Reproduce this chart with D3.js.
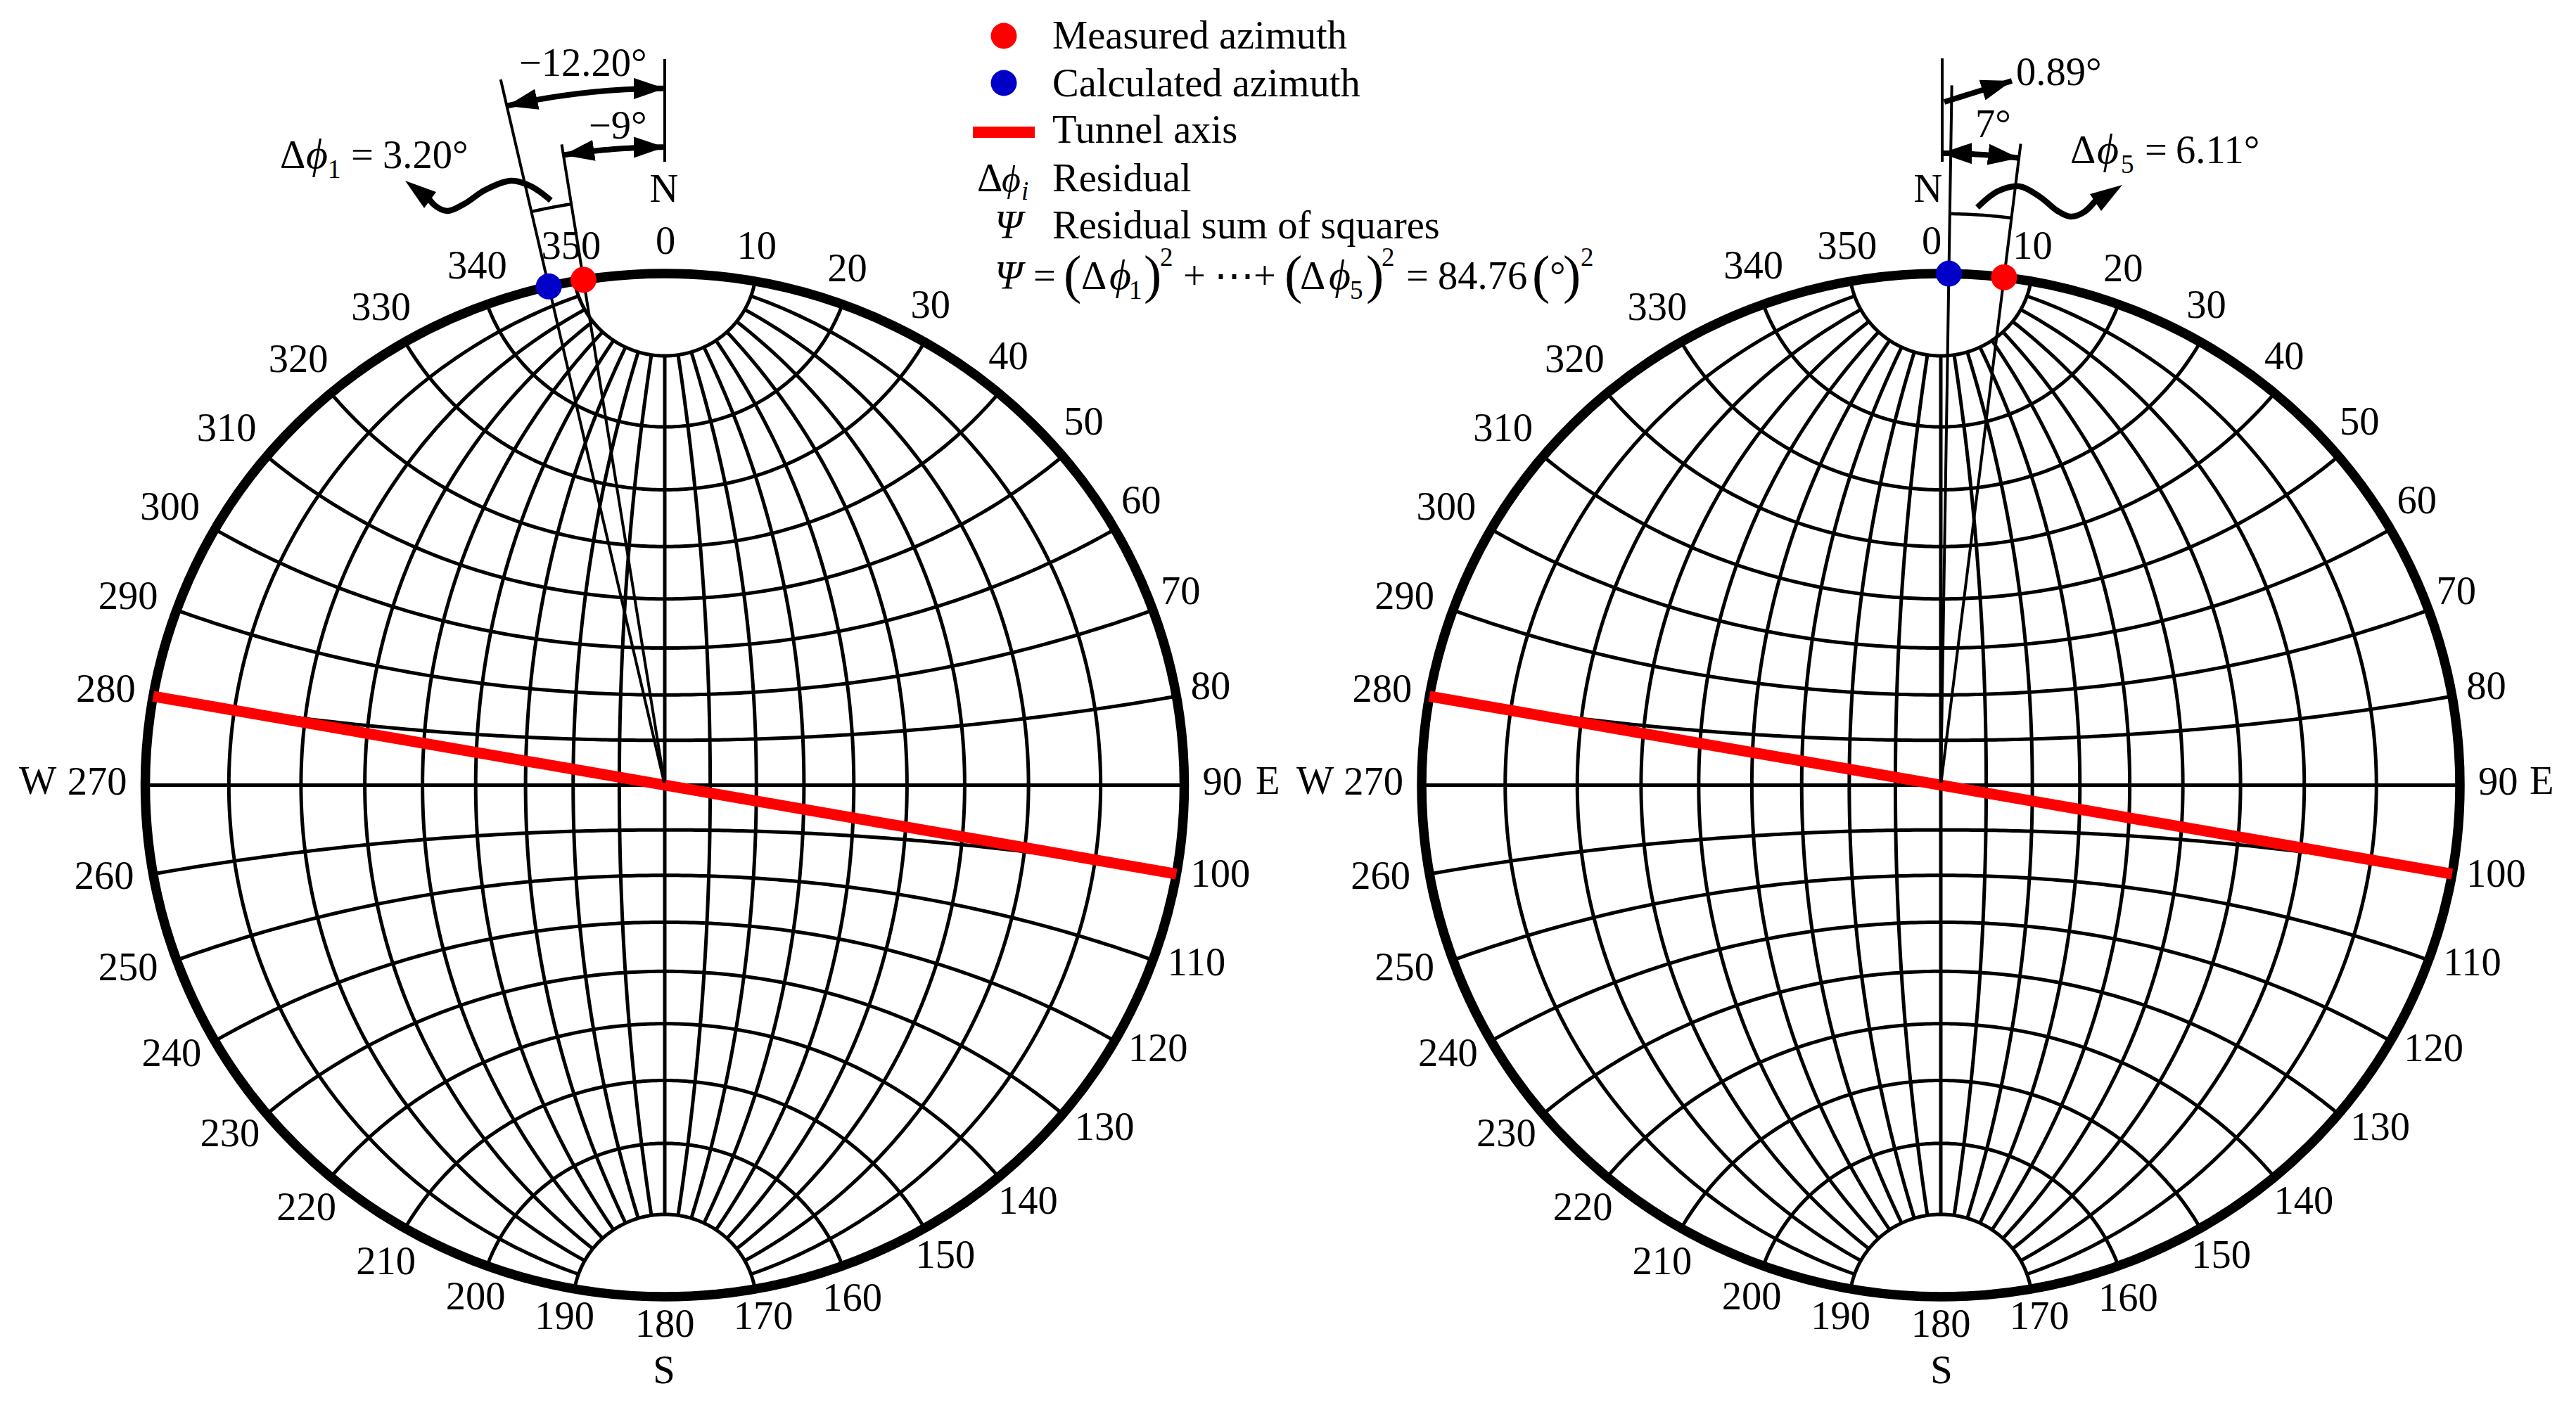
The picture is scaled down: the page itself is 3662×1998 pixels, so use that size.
<!DOCTYPE html>
<html>
<head>
<meta charset="utf-8">
<script src="https://cdn.jsdelivr.net/npm/d3@7"></script>
<style>
  html, body { margin: 0; padding: 0; background: #fff; }
  text { font-family: 'Liberation Serif', 'Times New Roman', serif; fill: #000; }
</style>
</head>
<body>
<svg id="chart" width="3662" height="1998"></svg>
<script>
// azimuth, degrees from north
const tickAzimuths = d3.range(0, 360, 10)
const netLongitudes = d3.range(-80, 81, 10)
const netLatitudes = d3.range(-80, 81, 10)
const tunnelAxis = [280, 100]

const leftMeasured = -9
const leftCalculated = -12.9
const rightMeasured = 7
const rightCalculated = 0.89

const legendRows = ['Measured azimuth', 'Calculated azimuth', 'Tunnel axis', 'Residual', 'Residual sum of squares']

const RED = '#ff0000'
const BLUE = '#0000c8'
const FONT = 56.5

// the tick labels sit by hand in the original, this moves each one off the plain ring
const tickNudge = {
    0: [0, -1], 10: [-3, -3], 20: [-5, -4], 30: [-8, -6], 40: [-9, -8], 50: [-5, -9],
    60: [-4, -8], 70: [-5, -5], 80: [-2, -3], 90: [0, -2], 100: [-2, -3], 110: [-1, -5],
    120: [1, -5], 130: [3, -4], 140: [-1, 0], 150: [-2, 0], 160: [-4, 2], 170: [0, -2],
    180: [0, -2], 190: [-1, -2], 200: [3, 1], 210: [3, 4], 220: [4, 4], 230: [0, 0],
    240: [-1, -2], 250: [-2, -2], 260: [-1, -2], 270: [0, -2], 280: [0, -1], 290: [-2, -2],
    300: [-2, -4], 310: [-2, -5], 320: [-1, -6], 330: [0, -5], 340: [4, -6], 350: [3, -3]
}

const svg = d3.select('#chart')
const defs = svg.append('defs')

defs.append('marker')
    .attr('id', 'head')
    .attr('viewBox', '0 0 44 30')
    .attr('refX', 44)
    .attr('refY', 15)
    .attr('markerWidth', 44)
    .attr('markerHeight', 30)
    .attr('markerUnits', 'userSpaceOnUse')
    .attr('orient', 'auto-start-reverse')
    .append('path')
    .attr('d', 'M0,0L44,15L0,30Z')
    .attr('fill', '#000')

const rad = d => d * Math.PI / 180

const label = (g, x, y, str, opts = {}) => g.append('text')
    .attr('x', x)
    .attr('y', y)
    .attr('font-size', opts.size || FONT)
    .attr('font-style', opts.italic ? 'italic' : null)
    .attr('text-anchor', opts.anchor || 'start')
    .text(str)

const drawNet = (cx, cy, rx, ry) => {
    const x = d3.scaleLinear().domain([-1, 1]).range([cx - rx, cx + rx])
    const y = d3.scaleLinear().domain([-1, 1]).range([cy + ry, cy - ry])
    const g = svg.append('g')

    const line = d3.line()
        .x(d => x(d3.geoStereographicRaw(rad(d[0]), rad(d[1]))[0]))
        .y(d => y(d3.geoStereographicRaw(rad(d[0]), rad(d[1]))[1]))

    netLongitudes.forEach(lon => {
        g.append('path')
            .attr('d', line(d3.range(-80, 80.5, 1).map(lat => [lon, lat])))
            .attr('fill', 'none')
            .attr('stroke', '#000')
            .attr('stroke-width', 5)
    })

    netLatitudes.forEach(lat => {
        g.append('path')
            .attr('d', line(d3.range(-90, 90.5, 1).map(lon => [lon, lat])))
            .attr('fill', 'none')
            .attr('stroke', '#000')
            .attr('stroke-width', 5)
    })

    g.append('ellipse')
        .attr('cx', x(0))
        .attr('cy', y(0))
        .attr('rx', rx)
        .attr('ry', ry)
        .attr('fill', 'none')
        .attr('stroke', '#000')
        .attr('stroke-width', 13.5)

    return { x, y, g }
}

// point at a radial distance (1 = net edge) on an azimuth
const polar = (net, az, r = 1) => [
    net.x(r * Math.sin(rad(az))),
    net.y(r * Math.cos(rad(az)))
]

const drawTicks = (net, zeroShift) => {
    tickAzimuths.forEach(az => {
        const s = Math.sin(rad(az))
        const c = Math.cos(rad(az))
        const str = String(az)
        const halfWidth = str.length * FONT / 4
        const [nx, ny] = tickNudge[az]
        const px = net.x(0) + (net.x(1) - net.x(0) + 26 + halfWidth) * s + nx * 2.335
        const py = net.y(0) - (net.y(0) - net.y(1) + 26 + 18) * c + ny * 2.335
        label(net.g, px + (az === 0 ? zeroShift : 0), py + 18, str, { anchor: 'middle' })
    })
}

const drawAxis = (net) => {
    const [a, b] = tunnelAxis.map(az => polar(net, az, 1))
    net.g.append('line')
        .attr('x1', a[0]).attr('y1', a[1])
        .attr('x2', b[0]).attr('y2', b[1])
        .attr('stroke', RED)
        .attr('stroke-width', 15.5)
}

const arcPath = (net, az0, az1, r) => d3.line()(d3.range(0, 1.001, 0.05).map(t => polar(net, az0 + (az1 - az0) * t, r)))

const strokeLine = (net, a, b, w = 4) => net.g.append('line')
    .attr('x1', a[0]).attr('y1', a[1])
    .attr('x2', b[0]).attr('y2', b[1])
    .attr('stroke', '#000')
    .attr('stroke-width', w)

const strokeArc = (net, d, w, startHead, endHead) => net.g.append('path')
    .attr('d', d)
    .attr('fill', 'none')
    .attr('stroke', '#000')
    .attr('stroke-width', w)
    .attr('marker-start', startHead ? 'url(#head)' : null)
    .attr('marker-end', endHead ? 'url(#head)' : null)

const wave = d3.line().curve(d3.curveCatmullRom)

const dot = (g, p, color) => g.append('circle')
    .attr('cx', p[0])
    .attr('cy', p[1])
    .attr('r', 18.5)
    .attr('fill', color)

const drawDelta = (g, x0, y0, sub, value, xs) => {
    label(g, x0, y0, '\u0394')
    label(g, xs[0], y0, '\u03d5', { italic: true, size: 60 })
    label(g, xs[1], y0 + 14, sub, { size: 37 })
    label(g, xs[2], y0, '=')
    label(g, xs[3], y0, value)
}

// left net
const left = drawNet(945, 1116.5, 738.5, 727.5)
drawTicks(left, 1)
drawAxis(left)
strokeLine(left, polar(left, leftCalculated, 0.005), polar(left, leftCalculated, 1.415))
strokeLine(left, polar(left, leftMeasured, 0.005), polar(left, leftMeasured, 1.268))
strokeLine(left, [945, 84], [945, 230])
strokeArc(left, arcPath(left, leftCalculated, 0, 1.362), 8, true, true)
strokeArc(left, arcPath(left, leftMeasured, 0, 1.247), 8, true, true)
strokeArc(left, arcPath(left, leftCalculated, leftMeasured, 1.15), 4.5)
strokeArc(left, wave([[783, 285], [755, 265], [727, 257], [690, 270], [660, 290], [636, 300], [618, 292], [603, 272]]), 8.5)
left.g.append('path').attr('d', 'M576,257L620,273L603,296Z').attr('fill', '#000')
dot(left.g, polar(left, leftCalculated), BLUE)
dot(left.g, polar(left, leftMeasured), RED)
label(left.g, 944, 287, 'N', { anchor: 'middle' })
label(left.g, 944, 1967, 'S', { anchor: 'middle' })
label(left.g, 27, 1129, 'W')
label(left.g, 1785, 1129, 'E')
label(left.g, 738, 108, '\u221212.20\u00b0')
label(left.g, 837, 197, '\u22129\u00b0')
drawDelta(left.g, 398, 239, '1', '3.20\u00b0', [435, 466, 499, 544])

// right net
const right = drawNet(2759, 1116.5, 738, 727.5)
drawTicks(right, -13)
drawAxis(right)
strokeLine(right, polar(right, rightCalculated, 0.005), polar(right, rightCalculated, 1.368))
strokeLine(right, polar(right, rightMeasured, 0.005), polar(right, rightMeasured, 1.263))
strokeLine(right, [2761, 83], [2761, 230])
strokeArc(right, arcPath(right, 0, rightMeasured, 1.235), 8, true, true)
strokeArc(right, arcPath(right, rightCalculated, rightMeasured, 1.117), 4.5)
strokeArc(right, d3.line()([[2764, 145], [2860, 115]]), 8, false, true)
strokeArc(right, wave([[2811, 295], [2840, 272], [2871, 265], [2900, 280], [2925, 300], [2943, 308], [2962, 302], [2985, 278]]), 8.5)
right.g.append('path').attr('d', 'M3017,263L2971,276L2987,300Z').attr('fill', '#000')
dot(right.g, polar(right, rightCalculated), BLUE)
dot(right.g, polar(right, rightMeasured), RED)
label(right.g, 2741, 287, 'N', { anchor: 'middle' })
label(right.g, 2760, 1967, 'S', { anchor: 'middle' })
label(right.g, 1843, 1129, 'W')
label(right.g, 3596, 1129, 'E')
label(right.g, 2866, 121, '0.89\u00b0')
label(right.g, 2808, 195, '7\u00b0')
drawDelta(right.g, 2943, 232, '5', '6.11\u00b0', [2981, 3015, 3049, 3093])

// legend
const legend = svg.append('g')
const rowBaselines = [69, 137, 203, 272, 339]
legendRows.forEach((row, i) => label(legend, 1496, rowBaselines[i], row))
legend.append('circle').attr('cx', 1427).attr('cy', 51).attr('r', 18.5).attr('fill', RED)
legend.append('circle').attr('cx', 1427).attr('cy', 118).attr('r', 18.5).attr('fill', BLUE)
legend.append('rect').attr('x', 1383).attr('y', 180).attr('width', 88).attr('height', 16).attr('fill', RED)
label(legend, 1389, 272, '\u0394')
label(legend, 1424, 272, '\u03d5', { italic: true, size: 52 })
label(legend, 1452, 284, 'i', { italic: true, size: 37 })
label(legend, 1414, 339, '\u03a8', { italic: true })

const formula = [
    ['\u03a8', 1414, 411, FONT, true],
    ['=', 1469, 411, FONT],
    ['(', 1512, 416, 76],
    ['\u0394', 1537, 411, FONT],
    ['\u03d5', 1577, 411, 60, true],
    ['1', 1605, 425, 37],
    [')', 1626, 416, 76],
    ['2', 1649, 378, 37],
    ['+', 1682, 411, FONT],
    ['\u22ef', 1726, 411, FONT],
    ['+', 1782, 411, FONT],
    ['(', 1826, 416, 76],
    ['\u0394', 1848, 411, FONT],
    ['\u03d5', 1889, 411, 60, true],
    ['5', 1919, 425, 37],
    [')', 1942, 416, 76],
    ['2', 1964, 378, 37],
    ['=', 1999, 411, FONT],
    ['84.76', 2044, 411, FONT],
    ['(', 2178, 416, 76],
    ['\u00b0', 2203, 411, FONT],
    [')', 2222, 416, 76],
    ['2', 2247, 378, 37]
]
formula.forEach(f => label(legend, f[1], f[2], f[0], { size: f[3], italic: f[4] }))
</script>
</body>
</html>
